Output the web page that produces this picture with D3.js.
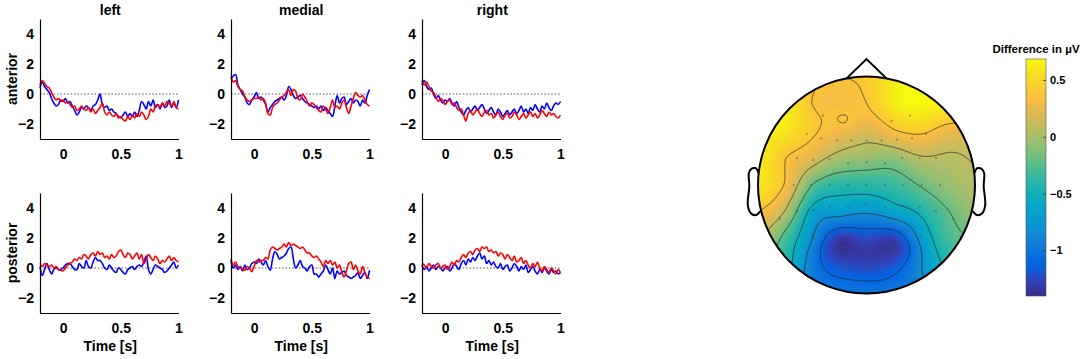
<!DOCTYPE html>
<html>
<head>
<meta charset="utf-8">
<script src="https://cdnjs.cloudflare.com/ajax/libs/d3/7.8.5/d3.min.js"></script>
<style>
  body { margin: 0; background: #fff; }
  text { font-family: 'Liberation Sans', Arial, sans-serif; font-weight: bold; fill: #000; }
</style>
</head>
<body>
<div id="chart"></div>
<script>
var chart_width = 1084, chart_height = 359;

// ---------- ERP data ----------
// sample times in seconds, one every 20 ms from -0.2 to 1
var times = d3.range(61).map((i) => -0.2 + i * 0.02);

var colNames = ['left', 'medial', 'right'];
var rowNames = ['anterior', 'posterior'];
var xTicks = [0, 0.5, 1];
var yTicks = [-2, 0, 2, 4];

var blueLeftAnt = [0.4,0.8,0.5,0.3,0.1,-0.3,-0.6,-0.8,-0.7,-0.4,-0.5,-0.3,-0.6,-0.5,-0.8,-1.1,-1.4,-1.2,-0.9,-1.0,-0.8,-0.9,-1.1,-0.8,-0.7,-0.4,0.0,-0.7,-0.9,-0.8,-1.1,-1.0,-1.2,-1.3,-1.5,-1.6,-1.4,-1.2,-1.5,-1.3,-1.5,-1.2,-1.5,-1.1,-0.5,-0.7,-1.0,-0.5,-0.8,-0.4,-0.9,-0.7,-1.0,-0.6,-0.9,-0.8,-0.4,-0.9,-0.6,-0.9,-0.4];
var redLeftAnt = [0.6,0.9,0.7,0.5,0.4,0.1,-0.2,-0.4,-0.3,-0.5,-0.4,-0.6,-0.5,-0.7,-0.9,-0.8,-1.1,-1.0,-0.8,-1.0,-1.1,-0.9,-1.2,-1.0,-1.3,-1.1,-0.9,-0.6,-1.2,-1.4,-1.2,-1.4,-1.5,-1.3,-1.6,-1.5,-1.7,-1.8,-1.5,-1.7,-1.4,-1.6,-1.3,-1.5,-1.2,-1.4,-1.7,-1.5,-1.0,-1.2,-0.8,-0.7,-0.9,-0.6,-0.8,-0.5,-0.6,-0.8,-0.5,-0.9,-1.0];

var blueMedAnt = [1.0,1.2,1.3,0.6,0.3,0.0,-0.2,-0.6,-0.7,-0.4,-0.2,0.1,-0.3,-0.2,-0.4,-0.7,-1.2,-0.9,-0.7,-0.5,-0.4,-0.3,-0.2,-0.4,-0.1,0.5,0.3,-0.1,-0.3,-0.2,-0.1,-0.3,-0.5,-0.6,-0.7,-0.8,-0.9,-0.8,-1.0,-0.8,-1.1,-0.9,-1.1,-1.3,-1.5,-0.8,-0.1,-0.6,-0.3,-0.2,-0.7,-0.5,-0.3,-0.6,-0.4,-0.5,-0.8,-0.4,-0.6,-0.1,0.3];
var redMedAnt = [1.2,0.8,0.9,0.5,0.3,0.2,-0.2,-0.4,-0.5,-0.4,-0.3,-0.3,-0.2,-0.4,-0.3,-0.6,-1.3,-1.4,-0.9,-0.7,-0.6,-0.4,-0.2,-0.1,0.1,0.3,-0.1,0.3,0.2,-0.3,-0.4,0.0,-0.2,-0.5,-0.8,-0.6,-0.7,-0.9,-1.1,-1.2,-0.8,-1.0,-1.3,-0.9,-0.4,-0.9,-0.8,-1.0,-0.6,-0.4,-0.9,-1.3,-0.8,-0.3,0.1,-0.1,-0.2,-0.1,-0.4,-0.7,-0.8];

var blueRightAnt = [0.6,0.9,0.5,0.3,0.4,0.0,-0.3,-0.1,-0.4,-0.6,-0.4,-0.5,-0.3,-0.6,-0.8,-0.5,-0.9,-1.2,-1.4,-1.1,-0.9,-1.2,-1.0,-0.8,-1.1,-0.9,-0.7,-1.0,-1.3,-1.1,-0.9,-1.2,-1.4,-1.0,-1.2,-1.5,-1.3,-1.1,-1.4,-1.2,-1.0,-1.3,-1.1,-0.8,-1.2,-1.0,-1.3,-0.9,-1.1,-0.7,-1.0,-1.2,-0.8,-1.0,-0.6,-0.9,-1.1,-0.8,-0.6,-0.7,-0.5];
var redRightAnt = [0.9,0.6,0.8,0.5,0.2,0.1,-0.2,-0.5,-0.3,-0.4,-0.7,-0.5,-0.4,-0.7,-0.6,-0.9,-1.1,-1.0,-1.4,-1.8,-1.3,-1.1,-1.4,-1.2,-1.0,-1.3,-1.5,-1.2,-1.1,-1.4,-1.3,-1.6,-1.4,-1.2,-1.5,-1.7,-1.4,-1.3,-1.6,-1.5,-1.2,-1.4,-1.7,-1.5,-1.3,-1.6,-1.4,-1.2,-1.5,-1.3,-1.6,-1.4,-1.1,-1.3,-1.5,-1.2,-1.4,-1.3,-1.5,-1.6,-1.4];

var blueLeftPost = [0.1,-0.5,-0.1,0.3,-0.1,-0.4,-0.1,0.0,-0.1,-0.1,0.0,0.2,0.3,0.3,0.1,-0.1,-0.1,0.3,0.1,0.0,0.5,0.1,0.0,0.4,0.7,0.5,0.5,0.3,0.0,-0.1,0.2,0.0,-0.2,-0.3,0.0,-0.1,-0.3,-0.4,-0.1,0.0,0.1,-0.1,0.1,0.2,0.1,0.4,0.8,-0.1,-0.4,-0.1,0.2,0.1,0.0,-0.1,-0.3,-0.2,0.0,0.2,0.4,0.0,0.2];
var redLeftPost = [0.3,0.1,0.3,0.2,0.1,0.2,0.0,0.1,-0.1,-0.15,-0.2,0.0,0.2,0.3,0.4,0.6,0.5,0.7,0.6,0.9,0.8,0.6,0.9,1.0,0.8,1.1,0.9,1.0,0.7,0.8,0.6,0.9,0.7,0.8,1.1,1.2,0.9,0.7,1.0,0.9,0.6,0.8,1.0,0.6,0.9,0.3,0.6,0.9,0.7,0.5,0.8,0.6,0.3,0.5,0.4,0.6,0.8,0.5,0.7,0.5,0.4];

var blueMedPost = [0.5,0.0,0.2,-0.1,0.1,-0.2,0.2,-0.1,0.0,0.3,0.4,0.3,0.6,0.4,0.2,0.5,0.1,-0.15,0.6,1.1,0.9,0.6,0.7,0.8,1.0,1.3,1.4,0.6,0.0,0.2,0.5,0.1,0.0,-0.2,0.1,0.2,-0.4,-0.4,-0.6,-0.4,-0.2,0.2,-0.1,-0.4,0.0,-0.7,-0.2,-0.4,-0.3,-0.2,-0.5,-0.6,-0.7,-0.6,-0.5,-0.3,-0.7,-0.5,-0.3,-0.7,-0.15];
var redMedPost = [0.6,0.2,0.4,0.1,0.0,-0.1,-0.15,0.1,0.0,-0.25,0.1,0.5,0.4,0.5,0.5,0.7,0.6,1.2,1.4,1.3,1.2,1.3,1.4,1.6,1.4,1.7,1.5,1.6,1.5,1.4,1.3,1.4,1.2,1.0,1.0,0.8,0.7,0.8,0.6,0.4,0.1,0.5,0.3,0.5,0.2,0.4,0.0,0.2,-0.3,-0.6,-0.2,0.3,0.4,-0.1,0.2,-0.2,-0.4,0.1,-0.3,-0.6,-0.7];

var blueRightPost = [0.2,-0.1,0.1,-0.2,0.0,0.2,-0.1,0.1,0.0,-0.2,0.0,0.1,-0.2,0.0,0.3,0.1,-0.1,0.3,0.5,0.2,0.6,0.4,0.7,0.5,0.8,1.0,0.6,0.8,0.3,0.5,0.2,0.4,0.1,0.0,0.3,-0.1,0.1,0.2,-0.2,0.0,0.3,0.1,-0.2,0.1,-0.1,0.2,-0.3,-0.1,0.1,-0.2,-0.4,-0.1,-0.3,0.0,-0.2,-0.4,-0.1,-0.3,-0.2,-0.4,-0.3];
var redRightPost = [0.3,0.2,0.0,0.3,0.1,0.0,0.2,0.3,0.0,0.1,0.2,-0.1,0.1,0.4,0.2,0.5,0.4,0.7,0.9,0.7,1.0,1.1,0.9,1.2,1.3,1.1,1.4,1.3,1.4,1.1,1.2,1.0,1.1,0.8,1.0,0.9,0.6,0.9,0.7,0.5,0.8,0.4,0.5,0.7,0.3,0.5,0.2,0.0,0.3,0.1,0.4,0.0,-0.2,0.1,-0.1,-0.3,0.0,-0.2,-0.4,-0.1,-0.3];

var blueSeries = [[blueLeftAnt, blueMedAnt, blueRightAnt], [blueLeftPost, blueMedPost, blueRightPost]];
var redSeries = [[redLeftAnt, redMedAnt, redRightAnt], [redLeftPost, redMedPost, redRightPost]];

// ---------- topography data ----------
// value grid over the head, u = left/right, v = front(-)/back(+), head radius = 1
var gridU = [-1, -0.75, -0.5, -0.25, 0, 0.25, 0.5, 0.75, 1];
var gridV = [-1, -0.75, -0.5, -0.25, 0, 0.25, 0.5, 0.75, 1];
var gridVals = [
  [0.62, 0.55, 0.45, 0.40, 0.45, 0.62, 0.66, 0.67, 0.65],
  [0.66, 0.64, 0.39, 0.33, 0.39, 0.62, 0.68, 0.66, 0.62],
  [0.66, 0.60, 0.43, 0.30, 0.20, 0.37, 0.44, 0.29, 0.30],
  [0.64, 0.40, 0.22, 0.01, -0.05, -0.08, 0.07, 0.06, 0.12],
  [0.60, 0.37, -0.21, -0.39, -0.39, -0.34, -0.19, -0.05, 0.05],
  [0.39, 0.07, -0.60, -0.70, -0.78, -0.64, -0.46, -0.22, -0.05],
  [0.10, -0.30, -0.80, -1.33, -1.25, -1.30, -0.73, -0.31, -0.20],
  [-0.25, -0.40, -0.95, -1.20, -1.25, -1.18, -0.82, -0.45, -0.30],
  [-0.50, -0.70, -0.95, -1.00, -1.00, -1.00, -0.90, -0.60, -0.40]
];
// a few extra readings where the map changes fast
var extraU = [-0.21, -0.40, 0.38];
var extraV = [-0.58, 0.58, 0.58];
var extraVals = [0.398, -1.15, -1.15];

// electrode positions (drawn as faint dots)
var elecU = [-0.40,0.23,0.40,
  -0.55,-0.42,-0.27,-0.14,0,0.14,0.28,0.42,0.55,
  -0.64,-0.49,-0.34,-0.17,0,0.17,0.33,0.49,0.64,
  -0.67,-0.51,-0.34,-0.17,0,0.17,0.34,0.51,0.68,
  -0.64,-0.49,-0.34,-0.17,0,0.17,0.34,0.49,0.64,
  -0.80,0.80,
  -0.50,-0.35,-0.17,0,0.17,0.35,0.50,
  -0.23,0,0.22,
  -0.21,0,0.21];
var elecV = [-0.64,-0.59,-0.64,
  -0.47,-0.43,-0.41,-0.41,-0.41,-0.41,-0.42,-0.43,-0.47,
  -0.25,-0.23,-0.24,-0.20,-0.21,-0.20,-0.25,-0.25,-0.25,
  0,0,0,0,0,0,0,0,0,
  0.24,0.23,0.20,0.20,0.18,0.20,0.19,0.20,0.24,
  0.31,0.31,
  0.47,0.44,0.43,0.43,0.43,0.44,0.47,
  0.58,0.59,0.58,
  0.77,0.78,0.77];

var cbMin = -1.4, cbMax = 0.69;
var cbTicks = [0.5, 0, -0.5, -1];

// parula colormap (subsampled)
var parulaStops = [
  [0.2081,0.1663,0.5292],[0.1959,0.2645,0.7279],[0.0117,0.3875,0.8820],[0.0498,0.4586,0.8641],
  [0.0793,0.5200,0.8312],[0.0343,0.5966,0.8199],[0.0228,0.6535,0.7768],[0.0843,0.6928,0.7062],
  [0.2178,0.7250,0.6193],[0.3953,0.7459,0.5244],[0.5709,0.7485,0.4494],[0.7184,0.7411,0.3905],
  [0.8507,0.7299,0.3360],[0.9739,0.7314,0.2666],[0.9880,0.8066,0.1794],[0.9589,0.8949,0.1132],
  [0.9763,0.9831,0.0538]
];
var parulaPos = [0,4,8,12,16,20,24,28,32,36,40,44,48,52,56,60,63].map((r) => r / 63);

var svg = d3.select('#chart')
            .append('svg')
            .attr('width', chart_width)
            .attr('height', chart_height);

// ---------- ERP panels ----------
var colX = [40, 231, 422];
var rowY = [19, 193];
var panel_w = 138.5, panel_h = 120;

rowNames.forEach((rowName, r) => {
    colNames.forEach((colName, c) => {
        var x_scale = d3.scaleLinear()
                        .domain([-0.2, 1])
                        .range([colX[c], colX[c] + panel_w]);
        var y_scale = d3.scaleLinear()
                        .domain([-3, 5])
                        .range([rowY[r] + panel_h, rowY[r]]);

        var g = svg.append('g');

        // dotted zero line
        g.append('line')
            .attr('x1', x_scale(-0.2))
            .attr('x2', x_scale(1))
            .attr('y1', y_scale(0))
            .attr('y2', y_scale(0))
            .attr('stroke', '#333')
            .attr('stroke-width', 0.8)
            .attr('stroke-dasharray', '1.6,1.8');

        var line = d3.line()
                     .x((d, i) => x_scale(times[i]))
                     .y((d) => y_scale(d))
                     .curve(d3.curveCatmullRom.alpha(0.5));

        g.append('path')
            .attr('d', line(blueSeries[r][c]))
            .attr('fill', 'none')
            .attr('stroke', '#0000ff')
            .attr('stroke-width', 1.6);

        g.append('path')
            .attr('d', line(redSeries[r][c]))
            .attr('fill', 'none')
            .attr('stroke', '#ff0000')
            .attr('stroke-width', 1.6);

        // axes
        var x_axis = d3.axisBottom(x_scale)
                       .tickValues(xTicks)
                       .tickFormat(d3.format('~g'))
                       .tickSize(0)
                       .tickPadding(10);
        var y_axis = d3.axisLeft(y_scale)
                       .tickValues(yTicks)
                       .tickSize(0)
                       .tickPadding(6);

        var gx = g.append('g')
            .attr('transform', 'translate(0,' + (rowY[r] + panel_h) + ')')
            .call(x_axis);
        var gy = g.append('g')
            .attr('transform', 'translate(' + colX[c] + ',0)')
            .call(y_axis);

        [gx, gy].forEach((a) => {
            a.select('.domain').attr('stroke', '#000').attr('stroke-width', 1.2);
            a.selectAll('text')
                .attr('font-size', 14)
                .attr('font-family', "'Liberation Sans', Arial, sans-serif")
                .attr('font-weight', 'bold')
                .attr('fill', '#000');
        });

        if (r === 0) {
            svg.append('text')
                .attr('x', colX[c] + panel_w / 2 + 1)
                .attr('y', 15)
                .attr('text-anchor', 'middle')
                .attr('font-size', 14)
                .text(colName);
        }
        if (r === 1) {
            svg.append('text')
                .attr('x', colX[c] + panel_w / 2 + 1)
                .attr('y', 351)
                .attr('text-anchor', 'middle')
                .attr('font-size', 14)
                .text('Time [s]');
        }
    });

    svg.append('text')
        .attr('transform', 'translate(17,' + (rowY[r] + panel_h / 2) + ') rotate(-90)')
        .attr('text-anchor', 'middle')
        .attr('font-size', 14)
        .text(rowName);
});

// ---------- topographic map ----------
var cx = 866.5, cy = 185, R = 108.5;
var hx = d3.scaleLinear().domain([-1, 1]).range([cx - R, cx + R]);
var hy = d3.scaleLinear().domain([-1, 1]).range([cy - R, cy + R]);

// collect readings
var pts = [];
gridV.forEach((v, i) => {
    gridU.forEach((u, j) => {
        pts.push([u, v, gridVals[i][j]]);
    });
});
extraU.forEach((u, k) => pts.push([u, extraV[k], extraVals[k]]));

// biharmonic spline (like griddata 'v4')
function green(d) {
    return d > 0 ? d * d * (Math.log(d) - 1) : 0;
}
function solve(A, b) {
    var n = b.length;
    for (var k = 0; k < n; k++) {
        var p = k;
        for (var i = k + 1; i < n; i++) if (Math.abs(A[i][k]) > Math.abs(A[p][k])) p = i;
        var tmp = A[k]; A[k] = A[p]; A[p] = tmp;
        var tb = b[k]; b[k] = b[p]; b[p] = tb;
        for (var i2 = k + 1; i2 < n; i2++) {
            var f = A[i2][k] / A[k][k];
            if (f === 0) continue;
            for (var j = k; j < n; j++) A[i2][j] -= f * A[k][j];
            b[i2] -= f * b[k];
        }
    }
    var x = new Array(n);
    for (var i3 = n - 1; i3 >= 0; i3--) {
        var s = b[i3];
        for (var j2 = i3 + 1; j2 < n; j2++) s -= A[i3][j2] * x[j2];
        x[i3] = s / A[i3][i3];
    }
    return x;
}
var Amat = pts.map((a) => pts.map((b) => green(Math.hypot(a[0] - b[0], a[1] - b[1]))));
var weights = solve(Amat, pts.map((p) => p[2]));
function field(u, v) {
    var s = 0;
    for (var k = 0; k < pts.length; k++) s += weights[k] * green(Math.hypot(u - pts[k][0], v - pts[k][1]));
    return s;
}

// colour scale
var parula = d3.scaleLinear()
               .domain(parulaPos.map((p) => cbMin + p * (cbMax - cbMin)))
               .range(parulaStops.map((c) => d3.rgb(c[0] * 255, c[1] * 255, c[2] * 255)))
               .interpolate(d3.interpolateRgb)
               .clamp(true);

// sample the field on a pixel grid
var pad = 4;
var gx0 = Math.floor(cx - R) - pad, gy0 = Math.floor(cy - R) - pad;
var gw = Math.ceil(2 * R) + 2 * pad, gh = gw;
var vals = new Float64Array(gw * gh);
for (var j = 0; j < gh; j++) {
    for (var i = 0; i < gw; i++) {
        vals[i + j * gw] = field(hx.invert(gx0 + i + 0.5), hy.invert(gy0 + j + 0.5));
    }
}

var canvas = document.createElement('canvas');
canvas.width = gw; canvas.height = gh;
var ctx = canvas.getContext('2d');
var img = ctx.createImageData(gw, gh);
var lut = d3.range(256).map((k) => d3.rgb(parula(cbMin + (k / 255) * (cbMax - cbMin))));
for (var k = 0; k < gw * gh; k++) {
    var t = Math.max(0, Math.min(255, Math.round((vals[k] - cbMin) / (cbMax - cbMin) * 255)));
    var col = lut[t];
    img.data[4 * k] = col.r; img.data[4 * k + 1] = col.g; img.data[4 * k + 2] = col.b; img.data[4 * k + 3] = 255;
}
ctx.putImageData(img, 0, 0);

var defs = svg.append('defs');
defs.append('clipPath').attr('id', 'headClip')
    .append('circle').attr('cx', cx).attr('cy', cy).attr('r', R);

var topo = svg.append('g');
topo.append('g').attr('clip-path', 'url(#headClip)')
    .append('image')
    .attr('x', gx0).attr('y', gy0)
    .attr('width', gw).attr('height', gh)
    .attr('preserveAspectRatio', 'none')
    .attr('href', canvas.toDataURL());

// contour lines at evenly spaced levels
var levels = d3.range(1, 7).map((k) => cbMin + k * (cbMax - cbMin) / 7);
var contours = d3.contours().size([gw, gh]).thresholds(levels)(Array.from(vals));
var cpath = d3.geoPath(d3.geoIdentity().translate([gx0, gy0]));
topo.append('g').attr('clip-path', 'url(#headClip)')
    .selectAll('path')
    .data(contours)
    .enter()
    .append('path')
    .attr('d', cpath)
    .attr('fill', 'none')
    .attr('stroke', '#222')
    .attr('stroke-opacity', 0.85)
    .attr('stroke-width', 0.8);

// electrodes
topo.selectAll('circle.elec')
    .data(elecU)
    .enter()
    .append('circle')
    .attr('class', 'elec')
    .attr('cx', (d) => hx(d))
    .attr('cy', (d, i) => hy(elecV[i]))
    .attr('r', 1.2)
    .attr('fill', '#555')
    .attr('fill-opacity', 0.45);

// head outline, nose, ears
topo.append('circle')
    .attr('cx', cx).attr('cy', cy).attr('r', R)
    .attr('fill', 'none').attr('stroke', '#000').attr('stroke-width', 2);

var noseU = [-0.184, 0, 0.184];
var noseV = [-0.983, -1.161, -0.983];
topo.append('path')
    .attr('d', d3.line()(noseU.map((u, i) => [hx(u), hy(noseV[i])])))
    .attr('fill', 'none').attr('stroke', '#000').attr('stroke-width', 2)
    .attr('stroke-linejoin', 'miter');

var earU = [0.994, 1.02, 1.036, 1.06, 1.084, 1.08, 1.094, 1.064, 1.02, 0.978];
var earV = [-0.111, -0.155, -0.157, -0.149, -0.111, 0.011, 0.186, 0.263, 0.277, 0.240];
[-1, 1].forEach((side) => {
    topo.append('path')
        .attr('d', d3.line().curve(d3.curveCatmullRom)(earU.map((u, i) => [hx(side * u), hy(earV[i])])))
        .attr('fill', 'none').attr('stroke', '#000').attr('stroke-width', 2);
});

// ---------- colour bar ----------
var cb_x = 1026, cb_w = 20, cb_top = 59, cb_bot = 296;
var cb_scale = d3.scaleLinear().domain([cbMin, cbMax]).range([cb_bot, cb_top]);
var grad = defs.append('linearGradient')
    .attr('id', 'cbGrad')
    .attr('x1', 0).attr('y1', 1).attr('x2', 0).attr('y2', 0);
grad.selectAll('stop')
    .data(parulaStops)
    .enter()
    .append('stop')
    .attr('offset', (d, i) => parulaPos[i])
    .attr('stop-color', (d) => d3.rgb(d[0] * 255, d[1] * 255, d[2] * 255));

svg.append('rect')
    .attr('x', cb_x).attr('y', cb_top)
    .attr('width', cb_w).attr('height', cb_bot - cb_top)
    .attr('fill', 'url(#cbGrad)')
    .attr('stroke', '#555').attr('stroke-width', 0.6);

svg.selectAll('line.cbtick')
    .data(cbTicks)
    .enter()
    .append('line')
    .attr('class', 'cbtick')
    .attr('x1', cb_x + cb_w - 3).attr('x2', cb_x + cb_w)
    .attr('y1', (d) => cb_scale(d)).attr('y2', (d) => cb_scale(d))
    .attr('stroke', '#333').attr('stroke-width', 0.7);

svg.selectAll('text.cblab')
    .data(cbTicks)
    .enter()
    .append('text')
    .attr('class', 'cblab')
    .attr('x', cb_x + cb_w + 4)
    .attr('y', (d) => cb_scale(d))
    .attr('dy', '0.35em')
    .attr('font-size', 11)
    .text((d) => d3.format('~g')(d));

svg.append('text')
    .attr('x', cb_x + cb_w / 2)
    .attr('y', 53)
    .attr('text-anchor', 'middle')
    .attr('font-size', 11.5)
    .text('Difference in \u00b5V');
</script>
</body>
</html>
